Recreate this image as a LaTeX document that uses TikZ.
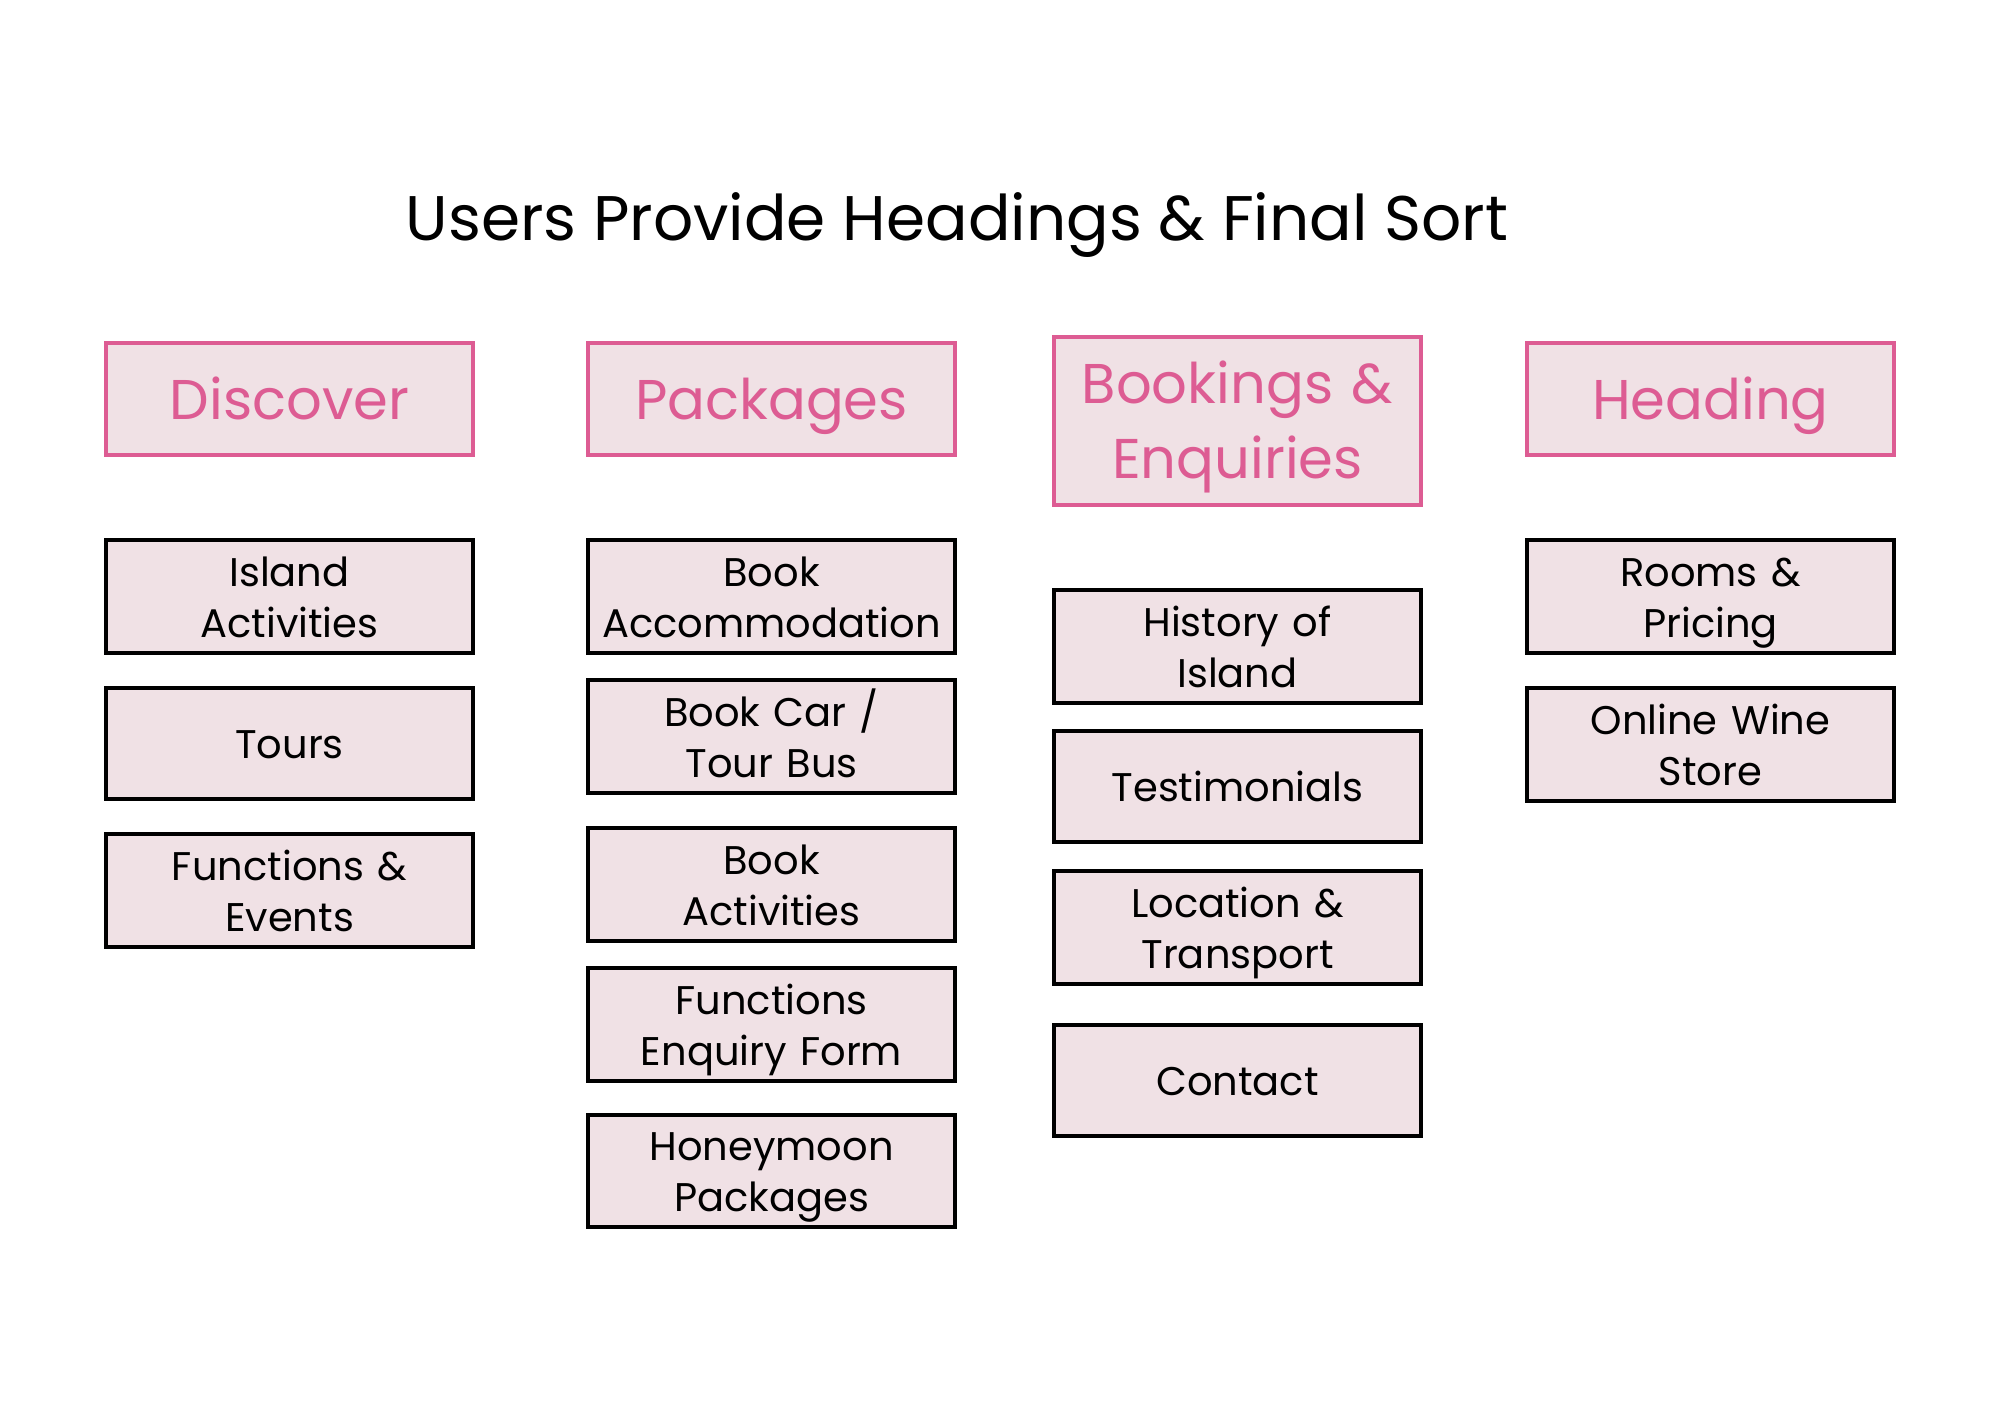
\documentclass[tikz,border=0pt]{standalone}
\usepackage{fontspec}
\setmainfont{Poppins}
\definecolor{pinkline}{HTML}{DD5C93}
\definecolor{boxfill}{HTML}{F0E1E5}
\tikzset{
  x=1pt, y=-1pt,
  headbox/.style={draw=pinkline, line width=3.5pt, fill=boxfill, minimum width=367pt, minimum height=112pt, text width=360pt, align=center, text=pinkline, font=\fontsize{56}{75}\selectfont, inner sep=0pt, execute at begin node={\rule{0pt}{63pt}}, execute at end node=\strut},
  itembox/.style={draw=black, line width=4pt, fill=boxfill, minimum width=367pt, minimum height=111pt, text width=360pt, align=center, text=black, font=\fontsize{40}{51}\selectfont, inner sep=0pt, execute at begin node={\rule{0pt}{46pt}}, execute at end node=\strut},
}
\begin{document}
\begin{tikzpicture}
\useasboundingbox (0,0) rectangle (2000,1414);
\node[font=\fontsize{63}{70}\selectfont] (title) at (957,225) {Users Provide Headings \& Final Sort};
% headers
\node[headbox] (h1) at (289.5,399) {Discover};
\node[headbox] (h2) at (771.5,399) {Packages};
\node[headbox, minimum height=168pt] (h3) at (1237.5,421) {Bookings \&\\Enquiries};
\node[headbox] (h4) at (1710.5,399) {Heading};
% column 1
\node[itembox] (a1) at (289.5,596.5) {Island\\Activities};
\node[itembox] (a2) at (289.5,743.5) {Tours};
\node[itembox] (a3) at (289.5,890.5) {Functions \&\\Events};
% column 2
\node[itembox] (b1) at (771.5,596.5) {Book\\Accommodation};
\node[itembox] (b2) at (771.5,736.5) {Book Car /\\Tour Bus};
\node[itembox] (b3) at (771.5,884.5) {Book\\Activities};
\node[itembox] (b4) at (771.5,1024.5) {Functions\\Enquiry Form};
\node[itembox] (b5) at (771.5,1171) {Honeymoon\\Packages};
% column 3
\node[itembox] (c1) at (1237.5,646.5) {History of\\Island};
\node[itembox] (c2) at (1237.5,786.5) {Testimonials};
\node[itembox] (c3) at (1237.5,927.5) {Location \&\\Transport};
\node[itembox] (c4) at (1237.5,1080) {Contact};
% column 4
\node[itembox] (d1) at (1710.5,596.5) {Rooms \&\\Pricing};
\node[itembox] (d2) at (1710.5,744.5) {Online Wine\\Store};
\end{tikzpicture}
\end{document}
